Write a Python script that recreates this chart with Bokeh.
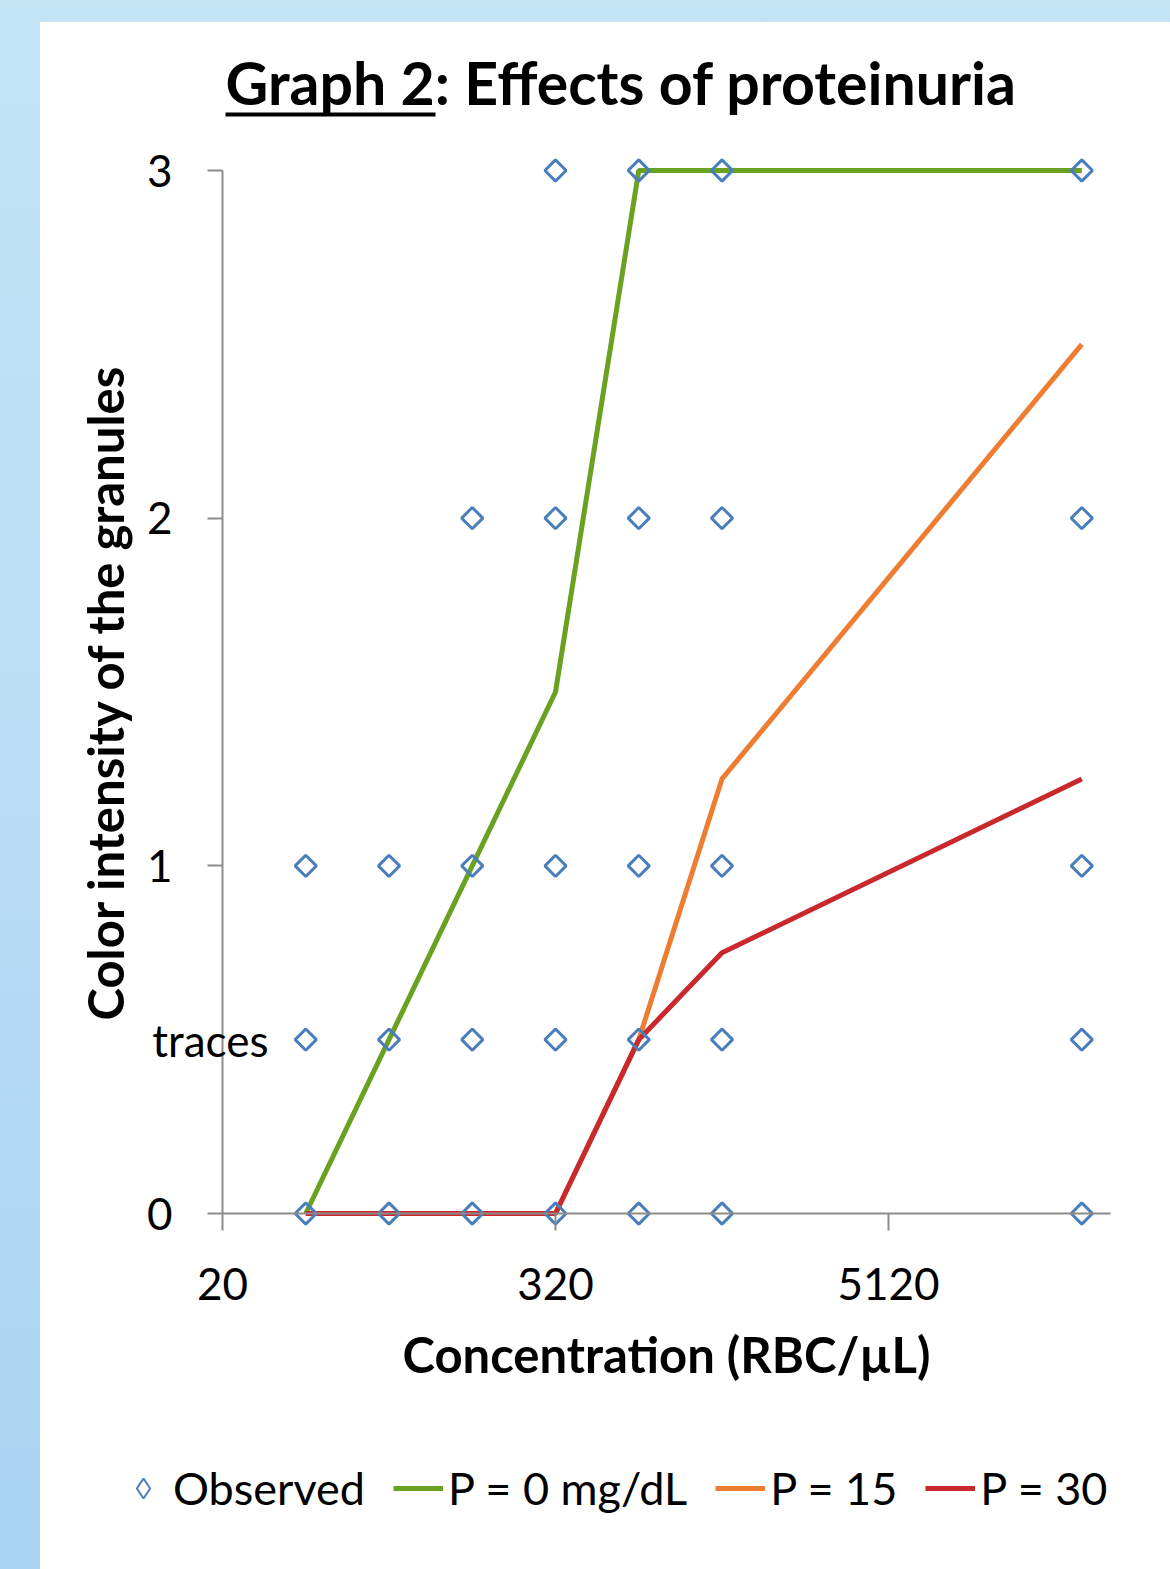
import math
from bokeh.plotting import figure
from bokeh.models import (LogAxis, LinearAxis, FixedTicker, Range1d, Legend, LegendItem,
                          Label, BoxAnnotation, NumeralTickFormatter, Title)
from bokeh.layouts import column
from bokeh.embed import file_html
from bokeh.resources import INLINE

# ---------------- data ----------------
conc = [40, 80, 160, 320, 640, 1280, 25600]
p0_mg = [0, 0.5, 1, 1.5, 3, 3, 3]
p15 = [0, 0, 0, 0, 0.5, 1.25, 2.5]
p30 = [0, 0, 0, 0, 0.5, 0.75, 1.25]

obs_conc = [40, 40, 40,
            80, 80, 80,
            160, 160, 160, 160,
            320, 320, 320, 320, 320,
            640, 640, 640, 640, 640,
            1280, 1280, 1280, 1280, 1280,
            25600, 25600, 25600, 25600, 25600]
obs_level = [0, 0.5, 1,
             0, 0.5, 1,
             0, 0.5, 1, 2,
             0, 0.5, 1, 2, 3,
             0, 0.5, 1, 2, 3,
             0, 0.5, 1, 2, 3,
             0, 0.5, 1, 2, 3]

x_ticks = [20, 320, 5120]
y_ticks = [0, 1, 2, 3]
trace_level = 0.5
trace_text = "traces"
x_axis_end = 32500
title_text = "Graph 2: Effects of proteinuria"

# ---------------- layout (figure pixels; page offset 40, 22) ----------------
W, H = 1130, 1547
X20 = 182                  # pixel of x = 20
PXD = 83.25                # pixels per doubling of concentration
Y0, Y3 = 1191, 148         # pixels of y=0 and y=3
FL, FR, FT, FB = 30, 1120, 86, 1523   # frame edges
ppu = (Y0 - Y3) / 3.0

x_start = 20 * 2 ** ((FL - X20) / PXD)
x_end = 20 * 2 ** ((FR - X20) / PXD)
y_start = -(FB - Y0) / ppu
y_end = 3 + (Y3 - FT) / ppu

FONT = "Lato"
AXC = "#8c8c8c"
TICK_FS = "44px"
LAB_FS = "49px"
LEG_FS = "45px"

p = figure(width=W, height=H, x_axis_type="log",
           x_range=Range1d(x_start, x_end), y_range=Range1d(y_start, y_end),
           x_axis_location=None, y_axis_location=None,
           output_backend="svg", toolbar_location=None,
           min_border_left=FL, min_border_right=W - FR,
           min_border_top=FT, min_border_bottom=H - FB,
           background_fill_color="white", border_fill_color="white",
           outline_line_color=None,
           styles={"background-color": "white"})
p.xgrid.visible = False
p.ygrid.visible = False

p.title = Title(text=title_text, align="left", offset=225 - 70,
                text_font=FONT, text_font_style="bold", text_font_size="59px",
                text_color="black", standoff=-18)

# ---- y axis drawn at x = 20 ----
ya = LinearAxis(fixed_location=20, ticker=FixedTicker(ticks=y_ticks), bounds=(0, 3),
                axis_label="Color intensity of the granules",
                axis_line_color=AXC, axis_line_width=2,
                major_tick_line_color=AXC, major_tick_line_width=2,
                major_tick_out=15, major_tick_in=0, minor_tick_out=0, minor_tick_in=0,
                major_label_standoff=35,
                major_label_text_font=FONT, major_label_text_font_size=TICK_FS,
                major_label_text_color="black",
                axis_label_standoff=10,
                axis_label_text_font=FONT, axis_label_text_font_style="bold",
                axis_label_text_font_size=LAB_FS, axis_label_text_color="black")
p.add_layout(ya, "left")

# ---- x axis drawn at y = 0 ----
xa = LogAxis(fixed_location=0, ticker=FixedTicker(ticks=x_ticks), bounds=(20, x_axis_end),
             formatter=NumeralTickFormatter(format="0"),
             axis_label="Concentration (RBC/µL)",
             axis_line_color=AXC, axis_line_width=2,
             major_tick_line_color=AXC, major_tick_line_width=2,
             major_tick_out=17, major_tick_in=0, minor_tick_out=0, minor_tick_in=0,
             major_label_standoff=37,
             major_label_text_font=FONT, major_label_text_font_size=TICK_FS,
             major_label_text_color="black",
             axis_label_standoff=22,
             axis_label_text_font=FONT, axis_label_text_font_style="bold",
             axis_label_text_font_size=LAB_FS, axis_label_text_color="black")
p.add_layout(xa, "below")

p.add_layout(Label(x=20, y=trace_level, text=trace_text, x_offset=46,
                   text_align="right", text_baseline="middle",
                   text_font=FONT, text_font_size=TICK_FS, text_color="black"))

r0 = p.line(conc, p0_mg, line_color="#6aa121", line_width=5)
r15 = p.line(conc, p15, line_color="#ed7d31", line_width=5)
r30 = p.line(conc, p30, line_color="#c9282d", line_width=5)
robs = p.scatter(obs_conc, obs_level, marker="square", angle=math.pi / 4, size=15,
                 fill_color=None, line_color="#4a7ebb", line_width=3)
# legend swatch for the observed points (diamond shape, hidden on the plot)
robs_key = p.scatter(obs_conc, obs_level, marker="diamond", fill_color=None,
                     line_color="#4a7ebb", line_width=2, visible=False)

legend = Legend(items=[LegendItem(label="Observed", renderers=[robs_key]),
                       LegendItem(label="P = 0 mg/dL", renderers=[r0]),
                       LegendItem(label="P = 15", renderers=[r15]),
                       LegendItem(label="P = 30", renderers=[r30])],
                orientation="horizontal", location=(48, 30),
                label_text_font=FONT, label_text_font_size=LEG_FS,
                label_text_color="black",
                glyph_width=50, glyph_height=50, label_standoff=5, spacing=28,
                border_line_color=None, background_fill_alpha=0,
                inactive_fill_alpha=0,
                margin=0, padding=0)
p.add_layout(legend)

# underline of "Graph 2"
p.add_layout(BoxAnnotation(left=185, right=395, top=90, bottom=94,
                           left_units="canvas", right_units="canvas",
                           top_units="canvas", bottom_units="canvas",
                           fill_color="black", fill_alpha=1, line_color=None))

page = column(p, width=1170, height=1569,
              styles={"background": "linear-gradient(180deg, #c4e4f6 0%, #b9ddf4 50%, #a9d4f2 100%)",
                      "padding-left": "40px", "padding-top": "22px",
                      "box-sizing": "border-box", "overflow": "hidden"})

open("out.html", "w").write(file_html(page, INLINE))
